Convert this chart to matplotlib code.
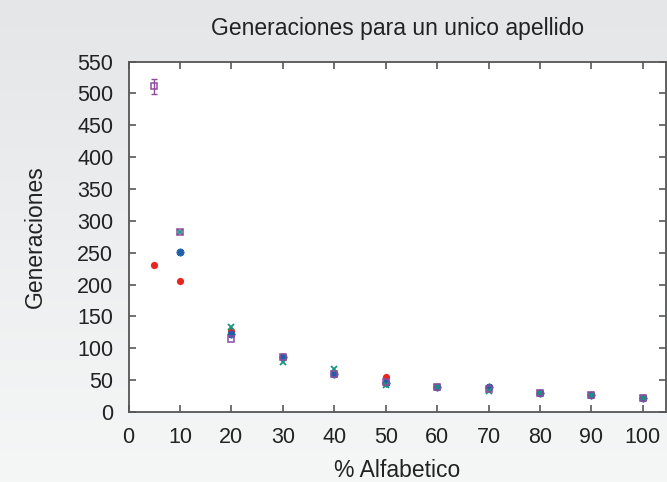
import numpy as np
import matplotlib.pyplot as plt

#%% Data
x_red = [5, 10, 20, 50]
y_red = [230, 206, 127, 55]

x_blue = [10, 20, 30, 40, 50, 60, 70, 80, 90, 100]
y_blue = [251, 122, 86, 60, 45, 40, 38.5, 30, 26, 22.5]

x_green = [10, 20, 30, 40, 50, 60, 70, 80, 90, 100]
y_green = [282, 133, 78, 67, 42, 40, 33.5, 30, 26, 22.5]

x_purple = [5, 10, 20, 30, 40, 50, 60, 70, 80, 90, 100]
y_purple = [511, 282, 114, 86, 60, 47, 40, 36, 30, 26, 22.5]
err_purple = [12, 2, 1.5, 1, 1, 1, 1, 1, 1, 1, 1]

xticks = np.arange(0, 101, 10)
yticks = np.arange(0, 551, 50)

#%% Figure
plt.rcParams['font.family'] = ['Liberation Sans', 'DejaVu Sans']
fig = plt.figure(figsize=(6.67, 4.82), dpi=100)

# grey gradient background
bg = fig.add_axes([0, 0, 1, 1], zorder=-10)
grad = np.linspace(0, 1, 256).reshape(-1, 1)
top = np.array([0.898, 0.902, 0.910])
bot = np.array([0.961, 0.965, 0.965])
img = top[None, None, :] * (1 - grad[:, :, None]) + bot[None, None, :] * grad[:, :, None]
bg.imshow(img, aspect='auto', extent=[0, 1, 0, 1])
bg.axis('off')

ax = fig.add_axes([0.1927, 0.1452, 0.8058, 0.7272])
ax.set_facecolor('white')

ax.plot(x_red, y_red, 'o', color='#e8261f', ms=5.2, mew=0, zorder=3)
ax.plot(x_blue, y_blue, marker=(8, 2, 0), ls='none', color='#1f5fa8', ms=5.5, mew=1.3, zorder=4)
ax.plot(x_green, y_green, 'x', color='#17977d', ms=4.5, mew=1.3, zorder=5)
ax.plot(x_purple, y_purple, 's', color='#8e4ba0', mfc='none', ms=4.8, mew=1.1, zorder=6)
# error bars only show where they stick out of the square
big = np.array(err_purple) > 5
ax.errorbar(np.array(x_purple)[big], np.array(y_purple)[big], yerr=np.array(err_purple)[big],
            fmt='none', ecolor='#8e4ba0', elinewidth=1.0, capsize=2.4, capthick=1.0, zorder=6)

ax.set_xlim(0, 104.5)
ax.set_ylim(0, 550)
ax.set_xticks(xticks)
ax.set_yticks(yticks)
ax.tick_params(direction='in', length=5, width=1.3, color='#666666',
               top=True, right=True, labelsize=15.5, labelcolor='#222222')
ax.tick_params(axis='y', pad=11)
ax.tick_params(axis='x', pad=11)
for s in ax.spines.values():
    s.set_color('#555555')
    s.set_linewidth(1.3)

ax.set_title('Generaciones para un unico apellido', fontsize=16.5, color='#222222', pad=19)
ax.set_xlabel('% Alfabetico', fontsize=16.5, color='#222222', va='top')
ax.set_ylabel('Generaciones', fontsize=16.5, color='#222222')
ax.xaxis.set_label_coords(0.5, -0.134)
ax.yaxis.set_label_coords(-0.152, 0.5)

plt.savefig('out.png', dpi=100)
